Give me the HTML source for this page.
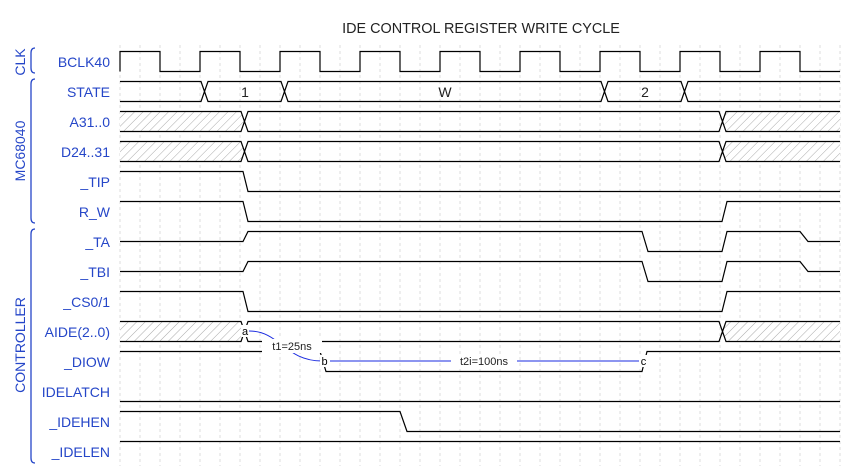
<!DOCTYPE html>
<html><head><meta charset="utf-8"><style>
html,body{margin:0;padding:0;background:#fff}
svg{display:block}
text{font-family:"Liberation Sans",Arial,sans-serif}
.l{font-size:14px;fill:#2546c8;text-anchor:end}
.w{fill:none;stroke:#000;stroke-width:1.2}
.g{stroke:#ddd;stroke-dasharray:3,3;stroke-width:1}
.h{fill:url(#hatch);stroke:none}
.m{font-size:11px;fill:#000;text-anchor:middle}
</style></head><body>
<svg width="850" height="466" viewBox="0 0 850 466" xmlns="http://www.w3.org/2000/svg">
<defs>
<pattern id="hatch" width="6" height="6" patternUnits="userSpaceOnUse" patternTransform="rotate(45)">
<rect width="6" height="6" fill="#fff"/><line x1="0" y1="0" x2="0" y2="6" stroke="#aaa" stroke-width="1"/>
</pattern>
</defs>
<text x="481" y="33" font-size="14.4" fill="#222" text-anchor="middle">IDE CONTROL REGISTER WRITE CYCLE</text>
<g>
<line class="g" x1="120" y1="45" x2="120" y2="466"/><line class="g" x1="140" y1="45" x2="140" y2="466"/><line class="g" x1="160" y1="45" x2="160" y2="466"/><line class="g" x1="180" y1="45" x2="180" y2="466"/><line class="g" x1="200" y1="45" x2="200" y2="466"/><line class="g" x1="220" y1="45" x2="220" y2="466"/><line class="g" x1="240" y1="45" x2="240" y2="466"/><line class="g" x1="260" y1="45" x2="260" y2="466"/><line class="g" x1="280" y1="45" x2="280" y2="466"/><line class="g" x1="300" y1="45" x2="300" y2="466"/><line class="g" x1="320" y1="45" x2="320" y2="466"/><line class="g" x1="340" y1="45" x2="340" y2="466"/><line class="g" x1="360" y1="45" x2="360" y2="466"/><line class="g" x1="380" y1="45" x2="380" y2="466"/><line class="g" x1="400" y1="45" x2="400" y2="466"/><line class="g" x1="420" y1="45" x2="420" y2="466"/><line class="g" x1="440" y1="45" x2="440" y2="466"/><line class="g" x1="460" y1="45" x2="460" y2="466"/><line class="g" x1="480" y1="45" x2="480" y2="466"/><line class="g" x1="500" y1="45" x2="500" y2="466"/><line class="g" x1="520" y1="45" x2="520" y2="466"/><line class="g" x1="540" y1="45" x2="540" y2="466"/><line class="g" x1="560" y1="45" x2="560" y2="466"/><line class="g" x1="580" y1="45" x2="580" y2="466"/><line class="g" x1="600" y1="45" x2="600" y2="466"/><line class="g" x1="620" y1="45" x2="620" y2="466"/><line class="g" x1="640" y1="45" x2="640" y2="466"/><line class="g" x1="660" y1="45" x2="660" y2="466"/><line class="g" x1="680" y1="45" x2="680" y2="466"/><line class="g" x1="700" y1="45" x2="700" y2="466"/><line class="g" x1="720" y1="45" x2="720" y2="466"/><line class="g" x1="740" y1="45" x2="740" y2="466"/><line class="g" x1="760" y1="45" x2="760" y2="466"/><line class="g" x1="780" y1="45" x2="780" y2="466"/><line class="g" x1="800" y1="45" x2="800" y2="466"/><line class="g" x1="820" y1="45" x2="820" y2="466"/><line class="g" x1="840" y1="45" x2="840" y2="466"/>
</g>
<text transform="translate(25,62) rotate(-90)" font-size="14" fill="#2546c8" text-anchor="middle">CLK</text>
<path d="M35 48 Q31 48 31 53 V68 Q31 73 35 73" fill="none" stroke="#2546c8" stroke-width="1.3"/>
<text transform="translate(25,151) rotate(-90)" font-size="14" fill="#2546c8" text-anchor="middle">MC68040</text>
<path d="M35 79 Q31 79 31 84 V218 Q31 223 35 223" fill="none" stroke="#2546c8" stroke-width="1.3"/>
<text transform="translate(25,345) rotate(-90)" font-size="14" fill="#2546c8" text-anchor="middle">CONTROLLER</text>
<path d="M35 229 Q31 229 31 234 V458 Q31 463 35 463" fill="none" stroke="#2546c8" stroke-width="1.3"/>
<text class="l" x="110" y="67">BCLK40</text>
<text class="l" x="110" y="97">STATE</text>
<text class="l" x="110" y="127">A31..0</text>
<text class="l" x="110" y="157">D24..31</text>
<text class="l" x="110" y="187">_TIP</text>
<text class="l" x="110" y="217">R_W</text>
<text class="l" x="110" y="247">_TA</text>
<text class="l" x="110" y="277">_TBI</text>
<text class="l" x="110" y="307">_CS0/1</text>
<text class="l" x="110" y="337">AIDE(2..0)</text>
<text class="l" x="110" y="367">_DIOW</text>
<text class="l" x="110" y="397">IDELATCH</text>
<text class="l" x="110" y="427">_IDEHEN</text>
<text class="l" x="110" y="457">_IDELEN</text>
<polygon class="h" points="120,111.5 241,111.5 244.5,121.5 241,131.5 120,131.5"/>
<polygon class="h" points="840,111.5 726,111.5 722.5,121.5 726,131.5 840,131.5"/>
<polygon class="h" points="120,141.5 241,141.5 244.5,151.5 241,161.5 120,161.5"/>
<polygon class="h" points="840,141.5 726,141.5 722.5,151.5 726,161.5 840,161.5"/>
<polygon class="h" points="120,321.5 241,321.5 244.5,331.5 241,341.5 120,341.5"/>
<polygon class="h" points="840,321.5 726,321.5 722.5,331.5 726,341.5 840,341.5"/>
<path class="w" d="M120 71.5 V51.5 H160 V71.5 H200 V51.5 H240 V71.5 H280 V51.5 H320 V71.5 H360 V51.5 H400 V71.5 H440 V51.5 H480 V71.5 H520 V51.5 H560 V71.5 H600 V51.5 H640 V71.5 H680 V51.5 H720 V71.5 H760 V51.5 H800 V71.5 H840"/>
<path class="w" d="M120 81.5 H201 L208 101.5 H281 L288 81.5 H601 L608 101.5 H681 L688 81.5 H840"/>
<path class="w" d="M120 101.5 H201 L208 81.5 H281 L288 101.5 H601 L608 81.5 H681 L688 101.5 H840"/>
<text x="245" y="97" font-size="14" fill="#222" text-anchor="middle">1</text>
<text x="445" y="97" font-size="14" fill="#222" text-anchor="middle">W</text>
<text x="645" y="97" font-size="14" fill="#222" text-anchor="middle">2</text>
<path class="w" d="M120 111.5 H241 L248 131.5 H719 L726 111.5 H840"/>
<path class="w" d="M120 131.5 H241 L248 111.5 H719 L726 131.5 H840"/>
<path class="w" d="M120 141.5 H241 L248 161.5 H719 L726 141.5 H840"/>
<path class="w" d="M120 161.5 H241 L248 141.5 H719 L726 161.5 H840"/>
<path class="w" d="M120 171.5 H243 L248 191.5 H840"/>
<path class="w" d="M120 201.5 H243 L248 221.5 H722 L727 201.5 H840"/>
<path class="w" d="M120 241.5 H243 L248 231.5 H642 L648 251.5 H722 L727 231.5 H800 L808 241.5 H840"/>
<path class="w" d="M120 271.5 H243 L248 261.5 H642 L648 281.5 H722 L727 261.5 H800 L808 271.5 H840"/>
<path class="w" d="M120 291.5 H243 L248 311.5 H722 L727 291.5 H840"/>
<path class="w" d="M120 321.5 H241 L248 341.5 H719 L726 321.5 H840"/>
<path class="w" d="M120 341.5 H241 L248 321.5 H719 L726 341.5 H840"/>
<path class="w" d="M120 351.5 H320 L326 371.5 H642 L647 351.5 H840"/>
<path class="w" d="M120 401.5 H840"/>
<path class="w" d="M120 411.5 H400 L407 431.5 H840"/>
<path class="w" d="M120 441.5 H840"/>
<path d="M249 331 C280 331, 285 361, 322 361" fill="none" stroke="#1a2be0" stroke-width="1"/>
<path d="M330 361 H640" fill="none" stroke="#1a2be0" stroke-width="1"/>
<rect x="262" y="339" width="60" height="14" fill="#fff"/>
<text x="292" y="350" font-size="11" fill="#222" text-anchor="middle">t1=25ns</text>
<rect x="451" y="354" width="66" height="14" fill="#fff"/>
<text x="484" y="365" font-size="11" fill="#222" text-anchor="middle">t2i=100ns</text>
<rect x="241" y="325" width="8" height="12" fill="#fff"/>
<text class="m" x="245" y="335">a</text>
<rect x="320" y="355" width="9" height="12" fill="#fff"/>
<text class="m" x="324.5" y="365">b</text>
<rect x="639" y="355" width="8" height="12" fill="#fff"/>
<text class="m" x="643.5" y="365">c</text>
</svg>
</body></html>
